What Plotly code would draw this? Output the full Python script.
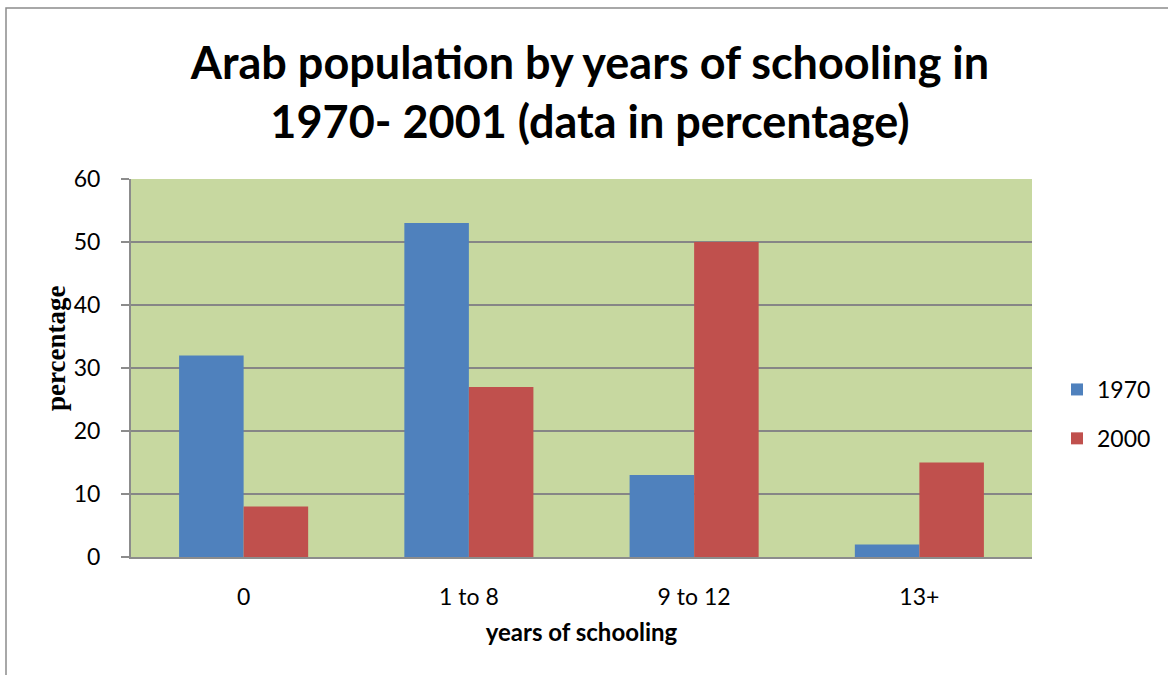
import plotly.graph_objects as go

categories = ["0", "1 to 8", "9 to 12", "13+"]
values_1970 = [32, 53, 13, 2]
values_2000 = [8, 27, 50, 15]
series_names = ["1970", "2000"]

L, R, T, B = 131, 1032, 179, 557
W, H = 1168, 675

fig = go.Figure()
fig.add_trace(go.Bar(x=categories, y=values_1970, name=series_names[0],
                     marker=dict(color="#4F81BD", line=dict(width=0)),
                     legendgroup="a"))
fig.add_trace(go.Bar(x=categories, y=values_2000, name=series_names[1],
                     marker=dict(color="#C0504D", line=dict(width=0)),
                     legendgroup="b"))

pw, ph = R - L, B - T
fig.add_shape(type="rect", xref="paper", yref="paper",
              x0=(6 - L) / pw, x1=(W + 20 - L) / pw,
              y0=(B - (H + 20)) / ph, y1=(B - 8) / ph,
              line=dict(color="#8C8C8C", width=1.5), fillcolor="rgba(0,0,0,0)",
              layer="below")

fig.add_annotation(text="<b>percentage</b>", textangle=-90,
                   xref="paper", yref="paper",
                   x=(56 - L) / pw, y=(B - 349) / ph,
                   xanchor="center", yanchor="middle", showarrow=False,
                   font=dict(family="Liberation Serif, Times New Roman, serif",
                             size=27, color="black"))

fig.update_layout(
    width=W, height=H,
    margin=dict(l=L, r=W - R, t=T, b=H - B, pad=0, autoexpand=False),
    paper_bgcolor="white",
    plot_bgcolor="#C7D8A0",
    barmode="group",
    bargap=0.427,
    bargroupgap=0,
    font=dict(family="Lato, Open Sans, sans-serif", color="black", size=23),
    title=dict(text="<b>Arab population by years of schooling in<br>1970- 2001 (data in percentage)</b>",
               x=590 / W, xanchor="center", y=1 - 79 / H, yanchor="middle",
               font=dict(family="Lato, Open Sans, sans-serif", size=45, color="black")),
    legend=dict(x=(1057 - L) / pw, xanchor="left", y=(B - 414) / ph, yanchor="middle",
                font=dict(size=23), tracegroupgap=16, itemwidth=30,
                bgcolor="rgba(0,0,0,0)"),
    showlegend=True,
    xaxis=dict(
        showline=True, linecolor="#8C8C8C", linewidth=2,
        ticks="", ticklabelstandoff=18,
        tickfont=dict(size=23),
        title=dict(text="<b>years of schooling</b>", standoff=16,
                   font=dict(size=24)),
    ),
    yaxis=dict(
        range=[0, 60], dtick=10,
        showline=True, linecolor="#8C8C8C", linewidth=2,
        showgrid=True, gridcolor="#868686", gridwidth=1.5,
        ticks="outside", ticklen=8, tickcolor="#8C8C8C", tickwidth=1.5,
        ticklabelstandoff=16,
        tickfont=dict(size=23),
        zeroline=False,
    ),
)

fig.write_html("out.html")
